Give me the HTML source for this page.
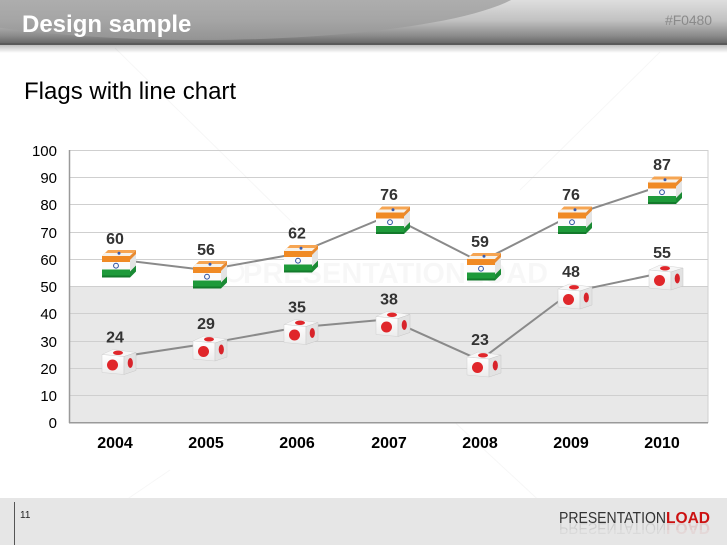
<!DOCTYPE html>
<html><head><meta charset="utf-8"><style>
html,body{margin:0;padding:0;background:#fff;}
svg{display:block;}
</style></head><body>
<svg width="727" height="545" viewBox="0 0 727 545" xmlns="http://www.w3.org/2000/svg" font-family="'Liberation Sans', sans-serif">
<defs>
  <linearGradient id="hdr" x1="0" y1="0" x2="0" y2="1">
    <stop offset="0" stop-color="#dedede"/>
    <stop offset="0.45" stop-color="#c2c2c2"/>
    <stop offset="0.8" stop-color="#8a8a8a"/>
    <stop offset="1" stop-color="#5e5e5e"/>
  </linearGradient>
  <linearGradient id="ell" x1="0" y1="0" x2="0" y2="1">
    <stop offset="0" stop-color="#b0b0b0"/>
    <stop offset="1" stop-color="#9a9a9a"/>
  </linearGradient>
  <linearGradient id="shd" x1="0" y1="0" x2="0" y2="1">
    <stop offset="0" stop-color="#bdbdbd"/>
    <stop offset="1" stop-color="#ffffff"/>
  </linearGradient>
  <clipPath id="hc"><rect x="0" y="0" width="727" height="45"/></clipPath>
  <linearGradient id="jl" x1="0" y1="0" x2="0" y2="1">
    <stop offset="0" stop-color="#ffffff"/>
    <stop offset="1" stop-color="#ececec"/>
  </linearGradient>
  <g id="india">
    <polygon points="0,6 6,0 34,0 28,6" fill="#f6a552"/>
    <polygon points="3,3 31,3 28,6 0,6" fill="#f7f2ea"/>
    <circle cx="17" cy="3.3" r="1.5" fill="#3a5cb0"/>
    <rect x="0" y="6" width="28" height="6" fill="#f08a24"/>
    <rect x="0" y="12" width="28" height="7.5" fill="#fbfbfb"/>
    <circle cx="14" cy="15.7" r="2.4" fill="none" stroke="#2a4fa0" stroke-width="1"/>
    <rect x="0" y="19.5" width="28" height="6" fill="#1e9a3a"/>
    <rect x="0" y="25.5" width="28" height="2" fill="#137a2b"/>
    <polygon points="28,6 34,0 34,21.5 28,27.5" fill="#e4e4e4"/>
    <polygon points="28,6 34,0 34,4 28,10" fill="#e98a30"/>
    <polygon points="28,21.5 34,15.5 34,21.5 28,27.5" fill="#1a8a34"/>
  </g>
  <g id="japan">
    <polygon points="0,5 22,7 34,3 11,0" fill="#f7f7f7" stroke="#d4d4d4" stroke-width="0.5"/>
    <ellipse cx="16" cy="3.3" rx="5" ry="2.2" fill="#e0262a"/>
    <polygon points="0,5 22,7 22,25 0,23" fill="url(#jl)" stroke="#d0d0d0" stroke-width="0.5"/>
    <circle cx="10.5" cy="15.5" r="5.5" fill="#e0262a"/>
    <polygon points="22,7 34,3 34,21 22,25" fill="#e2e2e2" stroke="#c8c8c8" stroke-width="0.5"/>
    <ellipse cx="28.3" cy="13.5" rx="2.6" ry="5" fill="#d8232a"/>
  </g>
</defs>

<!-- Header -->
<rect x="0" y="0" width="727" height="45" fill="url(#hdr)"/>
<g clip-path="url(#hc)">
  <ellipse cx="200" cy="-20" rx="330" ry="60" fill="url(#ell)" opacity="0.8"/>
</g>
<rect x="0" y="43" width="727" height="2" fill="#595959"/>
<rect x="0" y="45" width="727" height="8" fill="url(#shd)"/>
<text x="22" y="32" font-size="24" font-weight="bold" fill="#ffffff">Design sample</text>
<text x="665" y="25" font-size="14" fill="#8a8a8a" textLength="47">#F0480</text>

<!-- Subtitle -->
<text x="24" y="99" font-size="24" fill="#000">Flags with line chart</text>

<!-- faint watermark lines -->
<g stroke="#000" stroke-opacity="0.035" stroke-width="1">
  <line x1="115" y1="48" x2="300" y2="230"/>
  <line x1="420" y1="390" x2="560" y2="520"/>
  <line x1="660" y1="52" x2="520" y2="190"/>
  <line x1="170" y1="470" x2="60" y2="545"/>
</g>

<!-- Plot -->
<rect x="70" y="286.5" width="638" height="136.5" fill="#e8e8e8"/>
<g stroke="#cfcfcf" stroke-width="1">
  <line x1="70" y1="150.5" x2="708" y2="150.5"/>
  <line x1="70" y1="177.5" x2="708" y2="177.5"/>
  <line x1="70" y1="204.5" x2="708" y2="204.5"/>
  <line x1="70" y1="232.5" x2="708" y2="232.5"/>
  <line x1="70" y1="259.5" x2="708" y2="259.5"/>
  <line x1="70" y1="286.5" x2="708" y2="286.5"/>
  <line x1="70" y1="313.5" x2="708" y2="313.5"/>
  <line x1="70" y1="341.5" x2="708" y2="341.5"/>
  <line x1="70" y1="368.5" x2="708" y2="368.5"/>
  <line x1="70" y1="395.5" x2="708" y2="395.5"/>
  <line x1="708" y1="150" x2="708" y2="423"/>
</g>
<text x="243" y="283" font-size="29" font-weight="bold" fill="#000" fill-opacity="0.03">PRESENTATIONLOAD</text>
<circle cx="234" cy="272" r="9" fill="none" stroke="#000" stroke-opacity="0.03" stroke-width="3"/>
<line x1="69.5" y1="150" x2="69.5" y2="423" stroke="#9a9a9a" stroke-width="1.5"/>
<line x1="69" y1="422.8" x2="708" y2="422.8" stroke="#9a9a9a" stroke-width="1.5"/>

<!-- Y labels -->
<g font-size="15" fill="#000" text-anchor="end">
  <text x="57" y="156">100</text>
  <text x="57" y="183">90</text>
  <text x="57" y="210">80</text>
  <text x="57" y="238">70</text>
  <text x="57" y="265">60</text>
  <text x="57" y="292">50</text>
  <text x="57" y="319">40</text>
  <text x="57" y="347">30</text>
  <text x="57" y="374">20</text>
  <text x="57" y="401">10</text>
  <text x="57" y="428">0</text>
</g>

<!-- X labels -->
<g font-size="16" font-weight="bold" fill="#000" text-anchor="middle">
  <text x="115" y="448">2004</text>
  <text x="206" y="448">2005</text>
  <text x="297" y="448">2006</text>
  <text x="389" y="448">2007</text>
  <text x="480" y="448">2008</text>
  <text x="571" y="448">2009</text>
  <text x="662" y="448">2010</text>
</g>

<!-- Lines -->
<polyline points="115,259.2 206,270.1 297,253.7 389,215.5 480,261.9 571,215.5 662,185.5" fill="none" stroke="#8a8a8a" stroke-width="2"/>
<polyline points="115,357.5 206,343.8 297,327.5 389,319.3 480,360.2 571,292 662,272.9" fill="none" stroke="#8a8a8a" stroke-width="2"/>

<!-- India markers -->
<use href="#india" x="102" y="250"/>
<use href="#india" x="193" y="261"/>
<use href="#india" x="284" y="245"/>
<use href="#india" x="376" y="206.5"/>
<use href="#india" x="467" y="253"/>
<use href="#india" x="558" y="206.5"/>
<use href="#india" x="648" y="176.5"/>

<!-- Japan markers -->
<use href="#japan" x="102" y="349.5"/>
<use href="#japan" x="193" y="336"/>
<use href="#japan" x="284" y="319.5"/>
<use href="#japan" x="376" y="311.5"/>
<use href="#japan" x="467" y="352"/>
<use href="#japan" x="558" y="284"/>
<use href="#japan" x="649" y="265"/>

<!-- Data labels -->
<g font-size="16" font-weight="bold" fill="#333" text-anchor="middle">
  <text x="115" y="244">60</text>
  <text x="206" y="255">56</text>
  <text x="297" y="238.5">62</text>
  <text x="389" y="200">76</text>
  <text x="480" y="247">59</text>
  <text x="571" y="200">76</text>
  <text x="662" y="170">87</text>
  <text x="115" y="342.5">24</text>
  <text x="206" y="329">29</text>
  <text x="297" y="312.5">35</text>
  <text x="389" y="304.5">38</text>
  <text x="480" y="345">23</text>
  <text x="571" y="277">48</text>
  <text x="662" y="258">55</text>
</g>

<!-- Footer -->
<rect x="0" y="498" width="727" height="47" fill="#e6e6e6"/>
<line x1="14.5" y1="502" x2="14.5" y2="545" stroke="#555" stroke-width="1"/>
<text x="20" y="518" font-size="10" fill="#222">11</text>
<text x="559" y="523" font-size="16" fill="#333" textLength="107" lengthAdjust="spacingAndGlyphs">PRESENTATION</text>
<text x="666" y="523" font-size="16" font-weight="bold" fill="#cc1111" textLength="44" lengthAdjust="spacingAndGlyphs">LOAD</text>
<g transform="translate(0,1046) scale(1,-1)" opacity="0.12">
  <text x="559" y="523" font-size="16" fill="#333" textLength="107" lengthAdjust="spacingAndGlyphs">PRESENTATION</text>
  <text x="666" y="523" font-size="16" font-weight="bold" fill="#cc1111" textLength="44" lengthAdjust="spacingAndGlyphs">LOAD</text>
</g>
<rect x="550" y="530" width="170" height="15" fill="#e6e6e6" opacity="0.5"/>
</svg>
</body></html>
